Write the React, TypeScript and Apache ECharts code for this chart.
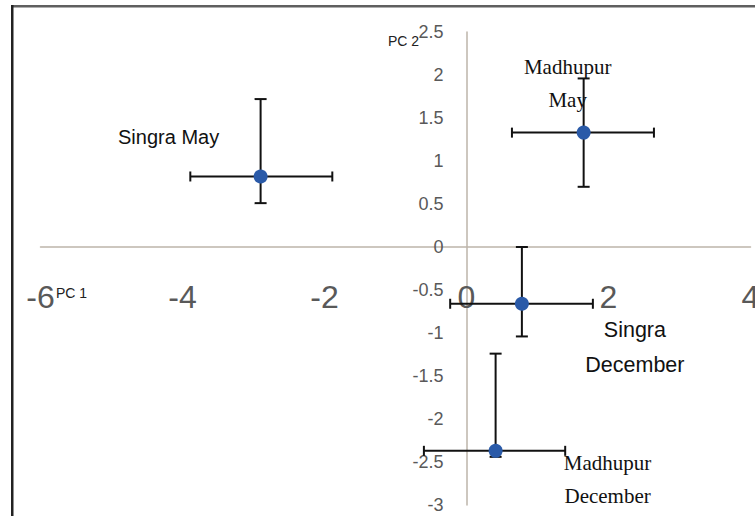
import React, { useEffect, useRef } from "react";
import * as echarts from "echarts";

// ---- data ----
const names = ["Singra May", "Madhupur\nMay", "Singra\nDecember", "Madhupur\nDecember"];
const pc1 = [-2.9, 1.65, 0.78, 0.41];
const pc2 = [0.82, 1.33, -0.66, -2.37];
const pc1Low = [-3.89, 0.64, -0.23, -0.6];
const pc1High = [-1.89, 2.64, 1.78, 1.39];
const pc2Low = [0.51, 0.7, -1.04, -2.44];
const pc2High = [1.72, 1.96, 0.0, -1.24];

// ---- label styling (layout only) ----
const labelStyles = [
  { fontFamily: "Liberation Sans", fontSize: 20, lineHeight: 24, offset: [-92, -39] },
  { fontFamily: "Liberation Serif", fontSize: 21, lineHeight: 33, offset: [-16, -49] },
  { fontFamily: "Liberation Sans", fontSize: 21.5, lineHeight: 35, offset: [113, 44] },
  { fontFamily: "Liberation Serif", fontSize: 21, lineHeight: 33, offset: [112, 29] },
];

const GRID = { left: 40.5, right: 4.5, top: 32, bottom: 11 };
const W = 755;
const H = 516;

export default function App() {
  const ref = useRef<HTMLDivElement>(null);
  useEffect(() => {
    document.body.style.margin = "0";
    const chart = echarts.init(ref.current!, null, { renderer: "svg" });
    const errData = pc1.map((x, i) => [x, pc2[i], pc1Low[i], pc1High[i], pc2Low[i], pc2High[i]]);
    const axisColor = "#BDB5AA";
    const barColor = "#111111";
    const cap = 5;
    const xMin = -6, xMax = 4, yMin = -3, yMax = 2.5;
    const plotW = W - GRID.left - GRID.right;
    const plotH = H - GRID.top - GRID.bottom;
    // move axes to the zero lines
    const xAxisOffset = -(plotH * (0 - yMin)) / (yMax - yMin);
    const yAxisOffset = -(plotW * (0 - xMin)) / (xMax - xMin);
    chart.setOption({
      animation: false,
      backgroundColor: "#ffffff",
      grid: { ...GRID, containLabel: false, outerBoundsMode: "none" },
      xAxis: {
        type: "value",
        min: xMin,
        max: xMax,
        interval: 2,
        position: "bottom",
        offset: xAxisOffset,
        axisLine: { onZero: false, lineStyle: { color: axisColor, width: 1.5 } },
        axisTick: { show: false },
        splitLine: { show: false },
        axisLabel: {
          margin: 34,
          fontSize: 32,
          fontFamily: "Liberation Sans",
          color: "#595959",
          showMinLabel: true,
          showMaxLabel: true,
        },
      },
      yAxis: {
        type: "value",
        min: yMin,
        max: yMax,
        interval: 0.5,
        position: "left",
        offset: yAxisOffset,
        axisLine: { onZero: false, lineStyle: { color: axisColor, width: 1.5 } },
        axisTick: { show: false },
        splitLine: { show: false },
        axisLabel: {
          margin: 23,
          fontSize: 18,
          fontFamily: "Liberation Sans",
          color: "#595959",
          showMinLabel: true,
          showMaxLabel: true,
        },
      },
      graphic: [
        {
          type: "rect",
          silent: true,
          z: 100,
          shape: { x: 12, y: 5, width: W - 12, height: 2.5 },
          style: { fill: "#5f5f5f" },
        },
        {
          type: "rect",
          silent: true,
          z: 100,
          shape: { x: 11, y: 5, width: 2.5, height: H - 5 },
          style: { fill: "#222222" },
        },
        {
          type: "text",
          x: 388,
          y: 41,
          style: { text: "PC 2", fontSize: 14, fontFamily: "Liberation Sans", fill: "#222", verticalAlign: "middle" },
        },
        {
          type: "text",
          x: 56,
          y: 293,
          style: { text: "PC 1", fontSize: 14, fontFamily: "Liberation Sans", fill: "#222", verticalAlign: "middle" },
        },
      ],
      series: [
        {
          type: "custom",
          data: errData,
          z: 3,
          renderItem: (params: any, api: any) => {
            const y = api.value(1);
            const x = api.value(0);
            const xl = api.coord([api.value(2), y]);
            const xh = api.coord([api.value(3), y]);
            const yl = api.coord([x, api.value(4)]);
            const yh = api.coord([x, api.value(5)]);
            const style = { stroke: barColor, lineWidth: 2 };
            const line = (x1: number, y1: number, x2: number, y2: number) => ({
              type: "line",
              shape: { x1, y1, x2, y2 },
              style,
            });
            return {
              type: "group",
              children: [
                line(xl[0], xl[1], xh[0], xh[1]),
                line(xl[0], xl[1] - cap, xl[0], xl[1] + cap),
                line(xh[0], xh[1] - cap, xh[0], xh[1] + cap),
                line(yl[0], yl[1], yh[0], yh[1]),
                line(yl[0] - cap - 1, yl[1], yl[0] + cap + 1, yl[1]),
                line(yh[0] - cap - 1, yh[1], yh[0] + cap + 1, yh[1]),
              ],
            };
          },
        },
        {
          type: "scatter",
          z: 4,
          symbolSize: 14,
          itemStyle: { color: "#2A5AA8", opacity: 1 },
          data: pc1.map((x, i) => ({
            name: names[i],
            value: [x, pc2[i]],
            label: {
              show: true,
              position: "inside",
              formatter: "{b}",
              color: "#111111",
              align: "center",
              verticalAlign: "middle",
              fontFamily: labelStyles[i].fontFamily,
              fontSize: labelStyles[i].fontSize,
              lineHeight: labelStyles[i].lineHeight,
              offset: labelStyles[i].offset,
            },
          })),
        },
      ],
    });
    return () => chart.dispose();
  }, []);
  return <div ref={ref} style={{ width: W, height: H }} />;
}
